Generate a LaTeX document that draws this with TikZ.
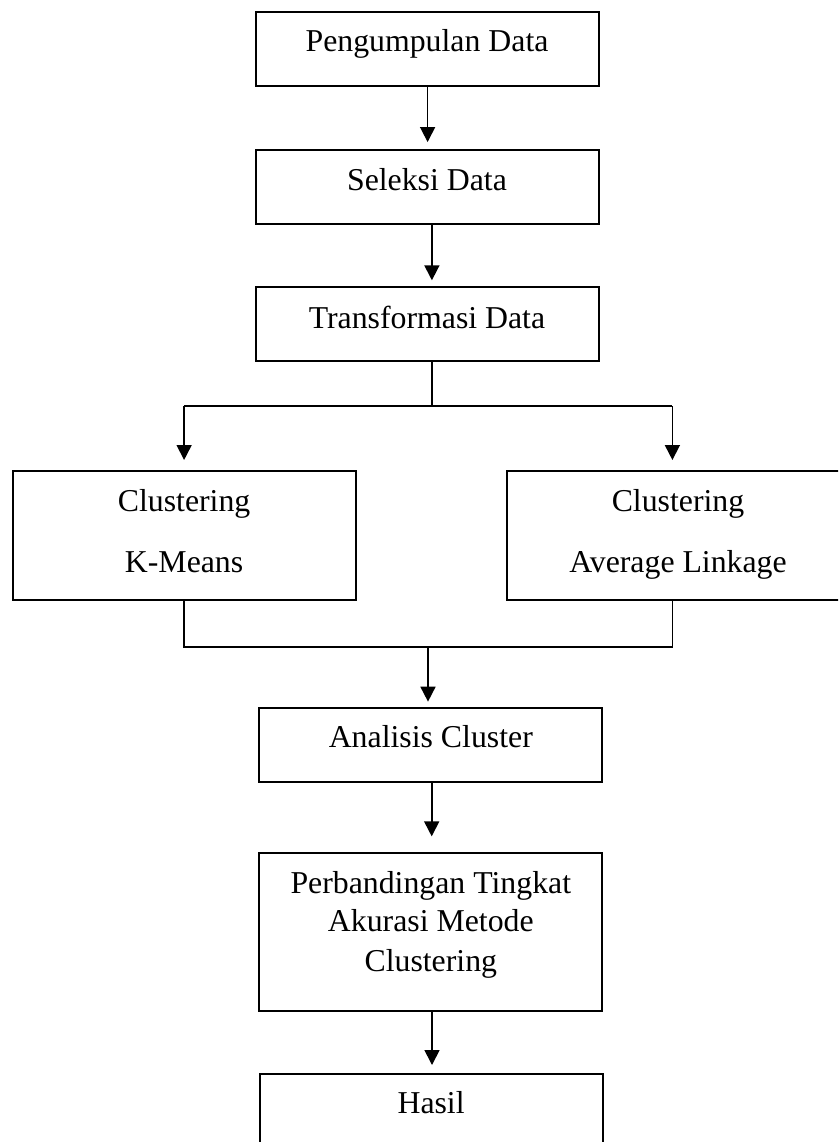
\documentclass[tikz,border=0pt]{standalone}
\usepackage{fontspec}
\setmainfont{Liberation Serif}
\usetikzlibrary{arrows.meta}
\tikzset{
  boxnode/.style={draw, rectangle, line width=2pt, minimum width=343pt, inner sep=0pt, fill=none},
  txt/.style={anchor=base, inner sep=0pt, font=\fontsize{31.8}{38}\selectfont},
  arr/.style={line width=1.7pt, -{Triangle[width=15pt,length=15pt]}},
  conn/.style={line width=1.3pt}
}
\begin{document}
\begin{tikzpicture}[x=1pt,y=-1pt]
\useasboundingbox (0,0) rectangle (838,1142);
\clip (0,0) rectangle (838,1142);
% boxes
\node[boxnode, minimum height=74.6pt] (b1) at (427,49) {};
\node[boxnode, minimum height=74.3pt] (b2) at (427,187.2) {};
\node[boxnode, minimum height=74pt] (b3) at (427,324.3) {};
\node[boxnode, minimum height=129pt] (bL) at (184.1,535.5) {};
\node[boxnode, minimum height=129pt] (bR) at (678,535.5) {};
\node[boxnode, minimum height=74.3pt] (b4) at (430.8,744.8) {};
\node[boxnode, minimum height=157.7pt] (b5) at (430.8,932.2) {};
\node[boxnode, minimum height=80pt] (b6) at (431.1,1114) {};
% texts
\node[txt] (t1) at (427,51.7) {Pengumpulan Data};
\node[txt] (t2) at (427,190.7) {Seleksi Data};
\node[txt] (t3) at (427,328.3) {Transformasi Data};
\node[txt] (tL1) at (184.1,511.7) {Clustering};
\node[txt] (tL2) at (184.1,572.7) {K-Means};
\node[txt] (tR1) at (678,511.7) {Clustering};
\node[txt] (tR2) at (678,572.7) {Average Linkage};
\node[txt] (t4) at (430.8,747.7) {Analisis Cluster};
\node[txt] (t5a) at (430.8,893.3) {Perbandingan Tingkat};
\node[txt] (t5b) at (430.8,931.7) {Akurasi Metode};
\node[txt] (t5c) at (430.8,971) {Clustering};
\node[txt] (t6) at (431.1,1113.3) {Hasil};
% junction coordinates
\coordinate (s0) at (431.9,406);
\coordinate (sL) at (184.1,406);
\coordinate (sR) at (672.4,406);
\coordinate (mL) at (184.1,647);
\coordinate (mR) at (672.4,647);
\coordinate (mC) at (428,647);
% connectors
\draw[arr, shorten >=7pt] (b1.south -| 427.6,0) -- (b2.north -| 427.6,0);
\draw[arr, shorten >=6pt] (b2.south -| 431.9,0) -- (b3.north -| 431.9,0);
\draw[conn] (b3.south -| s0) -- (s0);
\draw[conn] (sL) -- (sR);
\draw[arr, shorten >=10pt] (sL) -- (bL.north -| sL);
\draw[arr, shorten >=10pt] (sR) -- (bR.north -| sR);
\draw[conn] (bL.south -| mL) -- (mL) -- (mR) -- (bR.south -| mR);
\draw[arr, shorten >=5pt] (mC) -- (b4.north -| mC);
\draw[arr, shorten >=16pt] (b4.south -| 431.7,0) -- (b5.north -| 431.7,0);
\draw[arr, shorten >=8pt] (b5.south -| 432,0) -- (b6.north -| 432,0);
\end{tikzpicture}
\end{document}
